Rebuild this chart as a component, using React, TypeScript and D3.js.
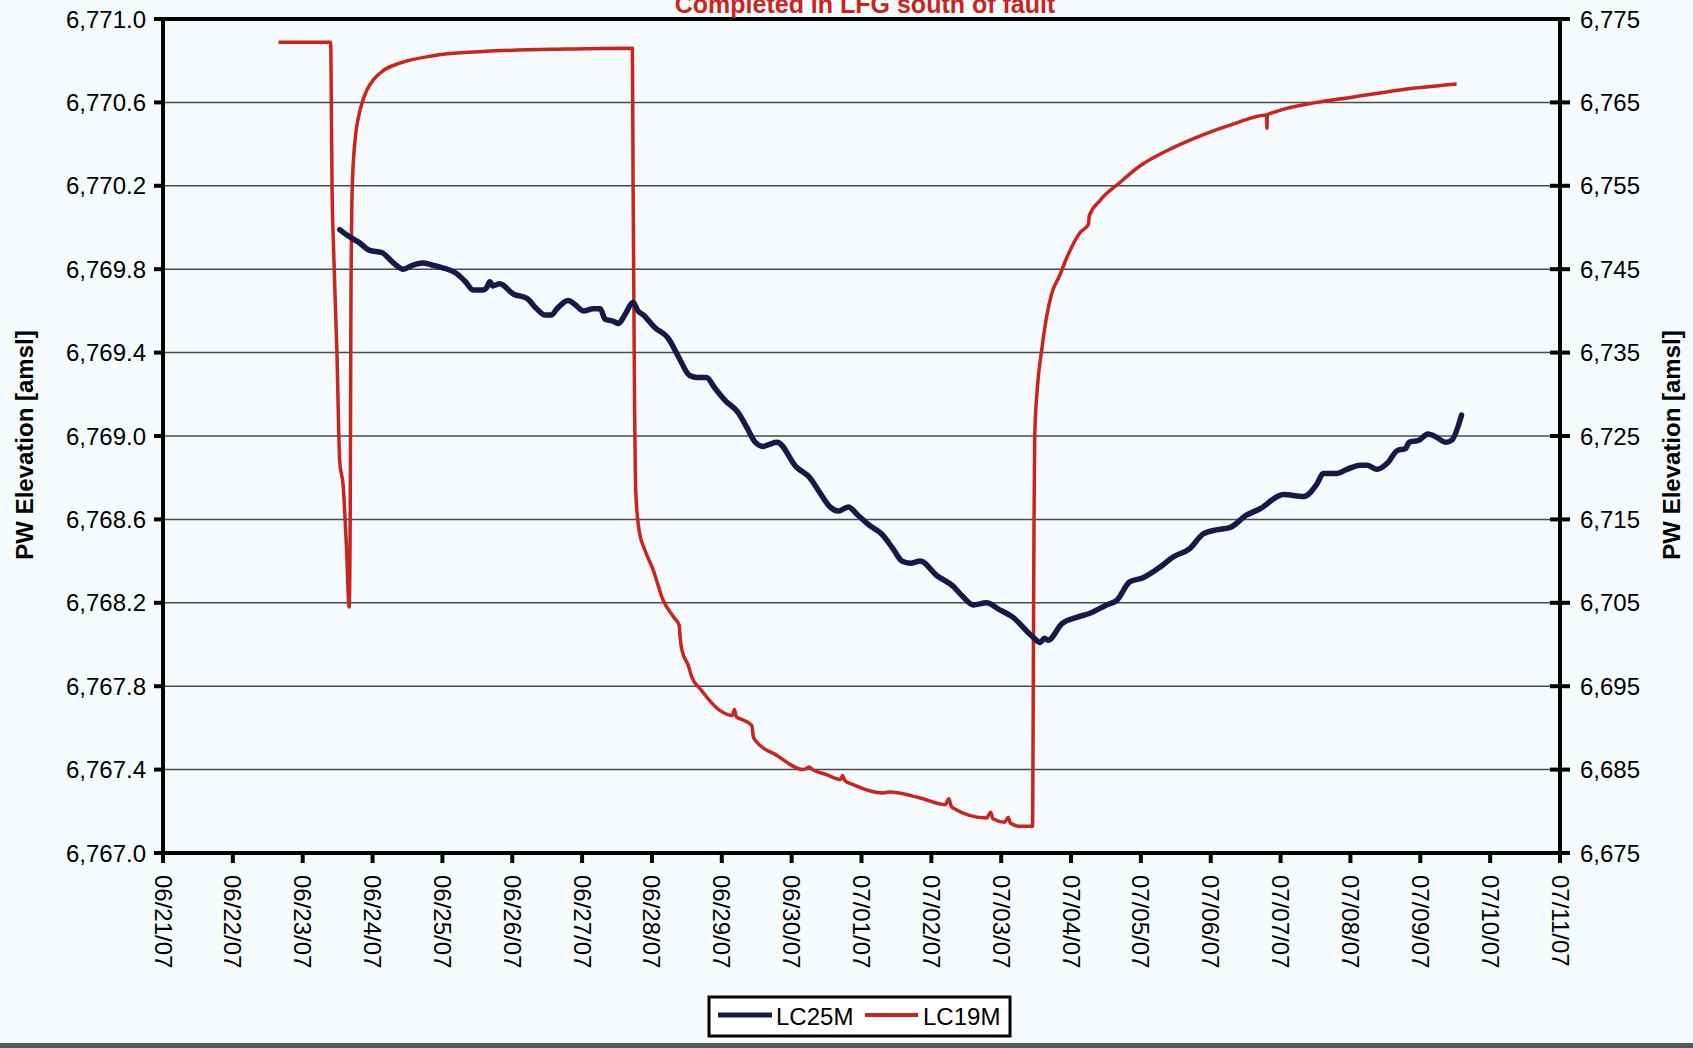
import React from "react";
import * as d3 from "d3";

// ---- Data ----
const title = "Completed in LFG south of fault";
const axisTitle = "PW Elevation [amsl]";
const seriesNames = ["LC25M", "LC19M"];

// day offsets from 06/21/07 00:00
const lc25mDays = [
  2.53, 2.65, 2.8, 2.96, 3.13, 3.3, 3.44, 3.58, 3.72, 3.85, 3.97, 4.2, 4.33, 4.44, 4.58, 4.63, 4.68, 4.72, 4.82,
  5.02, 5.21, 5.35, 5.47, 5.56, 5.64, 5.8, 5.9, 6.02, 6.16, 6.26, 6.33, 6.45, 6.52, 6.61, 6.73, 6.8, 6.88, 7.04,
  7.23, 7.38, 7.54, 7.65, 7.78, 7.9, 8.05, 8.24, 8.36, 8.48, 8.59, 8.68, 8.79, 9.07, 9.26, 9.4, 9.55, 9.67, 9.81,
  9.95, 10.12, 10.29, 10.45, 10.58, 10.7, 10.84, 11.08, 11.31, 11.45, 11.6, 11.79, 11.96, 12.17, 12.44, 12.56,
  12.62, 12.67, 12.87, 13.08, 13.27, 13.51, 13.65, 13.84, 14.03, 14.27, 14.46, 14.7, 14.89, 15.08, 15.27, 15.51,
  15.7, 16.04, 16.33, 16.52, 16.61, 16.8, 16.95, 17.14, 17.24, 17.38, 17.53, 17.67, 17.79, 17.84, 17.98, 18.11,
  18.2, 18.37, 18.45, 18.59,
];
const lc25mValues = [
  6769.99, 6769.96, 6769.93, 6769.89, 6769.88, 6769.83, 6769.8, 6769.82, 6769.83, 6769.82, 6769.81, 6769.78,
  6769.74, 6769.7, 6769.7, 6769.71, 6769.74, 6769.72, 6769.73, 6769.68, 6769.66, 6769.61, 6769.58, 6769.58,
  6769.61, 6769.65, 6769.63, 6769.6, 6769.61, 6769.61, 6769.56, 6769.55, 6769.54, 6769.58, 6769.64, 6769.6,
  6769.58, 6769.52, 6769.47, 6769.38, 6769.29, 6769.28, 6769.28, 6769.23, 6769.17, 6769.11, 6769.04, 6768.97,
  6768.95, 6768.96, 6768.97, 6768.85, 6768.8, 6768.73, 6768.66, 6768.64, 6768.66, 6768.62, 6768.57, 6768.53,
  6768.46, 6768.4, 6768.39, 6768.4, 6768.33, 6768.28, 6768.23, 6768.19, 6768.2, 6768.17, 6768.13, 6768.04,
  6768.01, 6768.03, 6768.02, 6768.1, 6768.13, 6768.15, 6768.19, 6768.21, 6768.3, 6768.32, 6768.37, 6768.42,
  6768.46, 6768.53, 6768.55, 6768.56, 6768.62, 6768.65, 6768.72, 6768.71, 6768.77, 6768.82, 6768.82, 6768.84,
  6768.86, 6768.86, 6768.84, 6768.87, 6768.93, 6768.94, 6768.97, 6768.98, 6769.01, 6769.0, 6768.97, 6768.98,
  6769.1,
];

const lc19mDays = [
  1.655, 2.4, 2.41, 2.42, 2.44, 2.49, 2.53, 2.58, 2.63, 2.665, 2.68, 2.69, 2.71, 2.75, 2.8, 2.86, 2.92, 3.02,
  3.15, 3.39, 3.87, 4.59, 5.78, 6.72, 6.73, 6.75, 6.77, 6.82, 6.9, 7.02, 7.16, 7.31, 7.39, 7.4, 7.43, 7.52, 7.57,
  7.69, 7.97, 8.15, 8.18, 8.21, 8.26, 8.43, 8.45, 8.48, 8.79, 9.17, 9.25, 9.3, 9.5, 9.7, 9.73, 9.76, 9.88, 10.31,
  10.4, 10.84, 11.2, 11.25, 11.28, 11.31, 11.79, 11.85, 11.88, 12.05, 12.1, 12.13, 12.27, 12.45, 12.46, 12.47,
  12.48, 12.52, 12.58, 12.65, 12.72, 12.84, 12.94, 13.13, 13.25, 13.26, 13.41, 13.7, 13.99, 14.37, 14.85, 15.32,
  15.8, 15.805, 15.81, 15.9, 16.52, 17.0, 17.71, 18.52,
];
const lc19mValues = [
  6772.2, 6772.2, 6765, 6755, 6748, 6735, 6722, 6719, 6711, 6704.5, 6715, 6740, 6755, 6760.5, 6763.3, 6765.2,
  6766.5, 6767.8, 6768.8, 6769.7, 6770.6, 6771.1, 6771.4, 6771.5, 6755, 6730, 6718, 6713.5, 6711.3, 6708.9,
  6705.3, 6703.3, 6702.3, 6701.2, 6699.3, 6697.5, 6696.1, 6694.7, 6692.1, 6691.5, 6692.2, 6691.3, 6691.1,
  6690.3, 6689, 6688.5, 6686.7, 6685.0, 6685.3, 6685.0, 6684.4, 6683.8, 6684.3, 6683.7, 6683.2, 6682.2,
  6682.3, 6681.6, 6680.8, 6681.5, 6680.7, 6680.4, 6679.2, 6679.9, 6679.1, 6678.7, 6679.3, 6678.6, 6678.2,
  6678.2, 6697, 6715, 6725, 6731, 6735.3, 6739.3, 6742, 6744.3, 6746.4, 6749.4, 6750.4, 6751.4, 6753.2, 6755.4,
  6757.4, 6759.2, 6761.0, 6762.4, 6763.5, 6761.9, 6763.5, 6763.8, 6765.0, 6765.6, 6766.5, 6767.2,
];

const leftTicks = [6767.0, 6767.4, 6767.8, 6768.2, 6768.6, 6769.0, 6769.4, 6769.8, 6770.2, 6770.6, 6771.0];
const rightTicks = [6675, 6685, 6695, 6705, 6715, 6725, 6735, 6745, 6755, 6765, 6775];

// ---- Layout ----
const W = 1693;
const H = 1048;
const M = { left: 163, right: 1560, top: 19, bottom: 853 };
const FONT = "'Liberation Sans', Arial, sans-serif";
const BLUE = "#16194a";
const RED = "#c8251f";

const base = new Date(2007, 5, 21).getTime();
const toDate = (d: number) => new Date(base + d * 86400000);

export default function App() {
  const x = d3.scaleTime().domain([new Date(2007, 5, 21), new Date(2007, 6, 11)]).range([M.left, M.right]);
  const yL = d3.scaleLinear().domain([6767, 6771]).range([M.bottom, M.top]);
  const yR = d3.scaleLinear().domain([6675, 6775]).range([M.bottom, M.top]);
  const xTicks = d3.timeDay.range(new Date(2007, 5, 21), new Date(2007, 6, 11, 1));
  const fmtX = d3.timeFormat("%m/%d/%y");
  const fmtL = d3.format(",.1f");
  const fmtR = d3.format(",");

  const blue = lc25mDays.map((d, i) => [toDate(d), lc25mValues[i]] as [Date, number]);
  const red = lc19mDays.map((d, i) => [toDate(d), lc19mValues[i]] as [Date, number]);
  const lineL = d3.line<[Date, number]>().x((p) => x(p[0])).y((p) => yL(p[1])).curve(d3.curveMonotoneX);
  const lineR = d3.line<[Date, number]>().x((p) => x(p[0])).y((p) => yR(p[1])).curve(d3.curveMonotoneX);

  const midY = (M.top + M.bottom) / 2 + 9;

  return (
    <svg width={W} height={H} style={{ position: "absolute", left: 0, top: 0 }} fontFamily={FONT}>
      <rect x={0} y={0} width={W} height={H} fill="#f5fafc" />
      {leftTicks.map((t) => (
        <line key={"g" + t} x1={M.left} x2={M.right} y1={yL(t)} y2={yL(t)} stroke="#4a4a4a" strokeWidth={1.5} />
      ))}
      <path d={lineR(red) || ""} fill="none" stroke={RED} strokeWidth={3.5} strokeLinejoin="round" />
      <path d={lineL(blue) || ""} fill="none" stroke={BLUE} strokeWidth={5.5} strokeLinejoin="round" strokeLinecap="round" />
      <rect x={M.left} y={M.top} width={M.right - M.left} height={M.bottom - M.top} fill="none" stroke="#000" strokeWidth={4} />
      {leftTicks.map((t) => (
        <g key={"l" + t}>
          <line x1={M.left - 9} x2={M.left} y1={yL(t)} y2={yL(t)} stroke="#000" strokeWidth={4} />
          <text x={M.left - 17} y={yL(t)} textAnchor="end" dominantBaseline="central" fontSize={24} fill="#000">
            {fmtL(t)}
          </text>
        </g>
      ))}
      {rightTicks.map((t) => (
        <g key={"r" + t}>
          <line x1={M.right - 10} x2={M.right + 10} y1={yR(t)} y2={yR(t)} stroke="#000" strokeWidth={4} />
          <text x={M.right + 20} y={yR(t)} textAnchor="start" dominantBaseline="central" fontSize={24} fill="#000">
            {fmtR(t)}
          </text>
        </g>
      ))}
      {xTicks.map((t) => (
        <g key={"x" + t.getTime()}>
          <line x1={x(t)} x2={x(t)} y1={M.bottom} y2={M.bottom + 10} stroke="#000" strokeWidth={4} />
          <text
            transform={`translate(${x(t)},${M.bottom + 22}) rotate(90)`}
            textAnchor="start"
            dominantBaseline="central"
            fontSize={24}
            fill="#000"
          >
            {fmtX(t)}
          </text>
        </g>
      ))}
      <text transform={`translate(24,${midY}) rotate(-90)`} textAnchor="middle" dominantBaseline="central" fontSize={24} fontWeight="bold">
        {axisTitle}
      </text>
      <text transform={`translate(1671,${midY}) rotate(-90)`} textAnchor="middle" dominantBaseline="central" fontSize={24} fontWeight="bold">
        {axisTitle}
      </text>
      <text x={865} y={13} textAnchor="middle" fontSize={25} fontWeight="bold" fill={RED}>
        {title}
      </text>
      <rect x={709} y={997} width={301} height={39} fill="#ffffff" stroke="#000" strokeWidth={3} />
      <line x1={718} x2={772} y1={1015} y2={1015} stroke={BLUE} strokeWidth={5} />
      <text x={776} y={1016} dominantBaseline="central" fontSize={24}>{seriesNames[0]}</text>
      <line x1={865} x2={918} y1={1015} y2={1015} stroke={RED} strokeWidth={4} />
      <text x={923} y={1016} dominantBaseline="central" fontSize={24}>{seriesNames[1]}</text>
      <rect x={0} y={1043} width={W} height={5} fill="#5a5a5a" />
    </svg>
  );
}
